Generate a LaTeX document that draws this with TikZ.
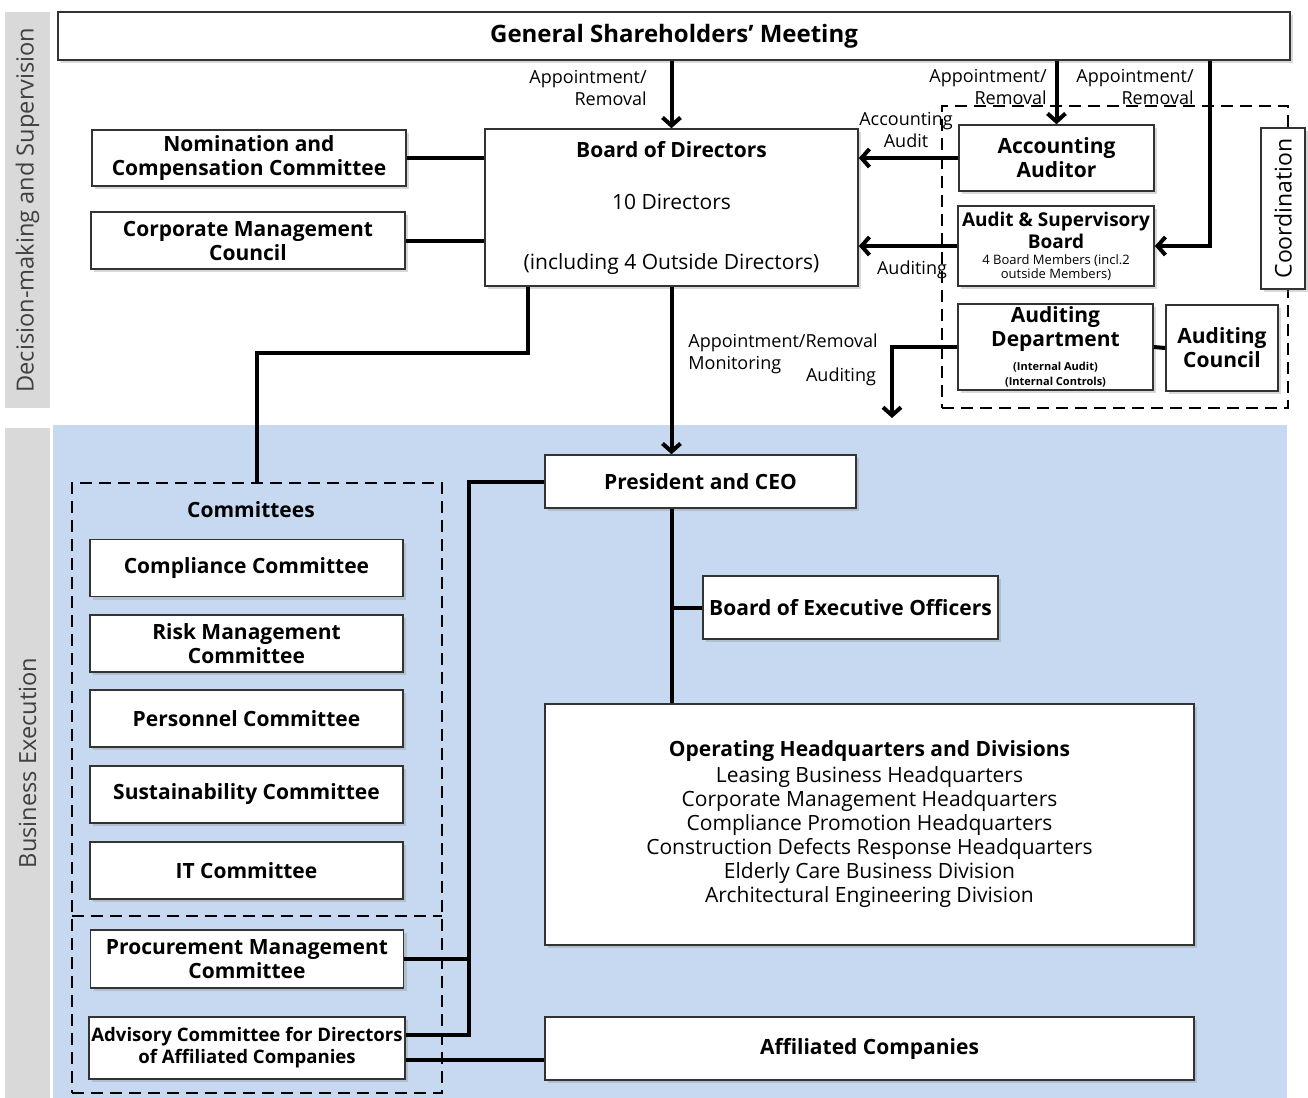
\documentclass[tikz,border=0pt]{standalone}
\usepackage{fontspec}
\setmainfont{Open Sans}
\usetikzlibrary{arrows.meta,calc,positioning,shadows}
\definecolor{bandgray}{HTML}{D9D9D9}
\definecolor{execblue}{HTML}{C6D9F0}
\definecolor{bandtext}{HTML}{404040}
\newcommand{\smallfnt}{\fontsize{6.5}{7.5}\selectfont\mdseries}
\newcommand{\tinybold}{\fontsize{5.5}{6.5}\selectfont\bfseries}
\tikzset{
    x=0.5pt, y=-0.5pt,
    box/.style = {rectangle, draw=black!80, line width=0.8pt, fill=white, align=center, inner sep=1pt,
        font=\fontsize{10.5}{12}\selectfont\bfseries,
        drop shadow={opacity=0.3, shadow xshift=1.5pt, shadow yshift=-1.5pt}},
    link/.style = {line width=2pt},
    arr/.style = {link, -{Straight Barb[length=4pt,width=9pt]}},
    lbl/.style = {font=\fontsize{9}{11}\selectfont, inner sep=0pt},
    grp/.style = {draw, line width=1pt, dash pattern=on 6pt off 3.5pt, inner sep=0pt},
    band/.style = {fill=bandgray, rotate=90, text=bandtext, font=\fontsize{11.8}{13}\selectfont, inner sep=0pt}
}

\begin{document}
\begin{tikzpicture}
	\tikzstyle{cbox}=[box, minimum width=156.5pt, minimum height=28.5pt]
	\tikzstyle{plain}=[font=\fontsize{10.5}{12}\selectfont]

	\useasboundingbox (0,0) rectangle (1308,1098);
	\fill[white] (0,0) rectangle (1308,1098);
	\fill[execblue] (53,425) rectangle (1287,1098);

	% side bands
	\node (dmband) [band, minimum width=198pt, minimum height=22.5pt] at (27.5,210) {Decision-making and Supervision};
	\node (exband) [band, minimum width=335pt, minimum height=22.5pt] at (27.5,763) {Business Execution};

	% dashed groups
	\node (audgrp) [grp, minimum width=173pt, minimum height=151pt] at (1115,257) {};
	\node (cmtgrp) [grp, minimum width=185pt, minimum height=305pt] at (257,788) {};
	\node (procgrp) [inner sep=0pt, minimum width=185pt, minimum height=88.5pt] at (257,1004.5) {};
	\draw[grp] (procgrp.north west) -- (procgrp.north east);

	% decision-making and supervision
	\node (gsm) [box, font=\fontsize{12}{14}\selectfont\bfseries, minimum width=616pt, minimum height=24pt] at (674,36) {General Shareholders’ Meeting};
	\node (bod) [box, plain, minimum width=186.5pt, minimum height=78.5pt] at (671.5,207.5)
		{\textbf{Board of Directors}\\[14pt]10 Directors\\[18pt](including 4 Outside Directors)};
	\node (ncc) [box, minimum width=157pt, minimum height=28pt] at (249,158) {Nomination and\\Compensation Committee};
	\node (cmc) [box, minimum width=157pt, minimum height=28.5pt] at (248,240.5) {Corporate Management\\Council};
	\node (aa) [box, minimum width=97.5pt, minimum height=33pt] at (1056.5,158) {Accounting\\Auditor};
	\node (asb) [box, font=\fontsize{9.5}{11}\selectfont\bfseries, minimum width=98pt, minimum height=40pt] at (1056,246)
		{Audit \& Supervisory\\[0pt]Board\\[-3pt]{\smallfnt 4 Board Members (incl.2}\\[-4pt]{\smallfnt outside Members)}};
	\node (ad) [box, minimum width=97.5pt, minimum height=43pt] at (1055.5,347)
		{Auditing\\Department\\{\tinybold (Internal Audit)}\\[-4.5pt]{\tinybold (Internal Controls)}};
	\node (ac) [box, minimum width=56pt, minimum height=43pt] at (1222,348) {Auditing\\Council};
	\node (coord) [box, font=\fontsize{11.5}{13}\selectfont, rotate=90, minimum width=80.5pt, minimum height=22pt] at (1283,208.5) {Coordination};

	% business execution
	\node (pres) [box, minimum width=155.5pt, minimum height=26.5pt] at (700.5,481.5) {President and CEO};
	\node (beo) [box, inner xsep=0.5pt, minimum width=147.5pt, minimum height=31.5pt] at (850.5,607.5) {Board of Executive Officers};
	\node (ohd) [box, plain, minimum width=324.5pt, minimum height=120.5pt] at (869.5,824.5)
		{\textbf{Operating Headquarters and Divisions}\\[1pt]Leasing Business Headquarters\\Corporate Management Headquarters\\
		 Compliance Promotion Headquarters\\Construction Defects Response Headquarters\\Elderly Care Business Division\\
		 Architectural Engineering Division};
	\node (aff) [box, minimum width=324.5pt, minimum height=31.5pt] at (869.5,1048.5) {Affiliated Companies};

	% committees
	\node (cmthead) [font=\fontsize{10.5}{12}\selectfont\bfseries] at (251,510) {Committees};
	\node (comp) [cbox] at (246.5,568) {Compliance Committee};
	\node (risk) [cbox] at (246.5,643.5) {Risk Management\\Committee};
	\node (pers) [cbox] at (246.5,718.5) {Personnel Committee};
	\node (sust) [cbox] at (246.5,794.5) {Sustainability Committee};
	\node (itc) [cbox] at (246.5,870.5) {IT Committee};
	\node (proc) [cbox, minimum height=29pt] at (247,959) {Procurement Management\\Committee};
	\node (adv) [box, font=\fontsize{9.3}{11}\selectfont\bfseries, inner xsep=0pt, minimum width=158pt, minimum height=31pt] at (247,1048)
		{Advisory Committee for Directors\\of Affiliated Companies};

	% connector labels
	\node (lblbod) [lbl, anchor=east, align=right] at (647,88) {Appointment/\\Removal};
	\node (lblaa) [lbl, anchor=east, align=right] at (1047,87) {Appointment/\\Removal};
	\node (lblasb) [lbl, anchor=east, align=right] at (1194,87) {Appointment/\\Removal};
	\node (lblacc) [lbl, align=center] at (906,130) {Accounting\\Audit};
	\node (lblaud) [lbl] at (912,270) {Auditing};
	\node (lblpres) [lbl, anchor=west, align=left] at (688,354) {Appointment/Removal\\Monitoring};
	\node (lblad) [lbl] at (841,377) {Auditing};

	% connectors
	\coordinate (asbtap) at (1210,245);
	\coordinate (bodtap) at (528,353);
	\coordinate (adtip) at (892,418);
	\coordinate (spine) at (469,1035);

	\path[arr] (gsm.south -| bod.north) edge (bod.north);
	\path[arr] (gsm.south -| aa.north) edge (aa.north);
	\draw[arr] (gsm.south -| asbtap) |- (asb.east);
	\path[arr] (aa.west) edge (aa.west -| bod.east);
	\path[arr] (asb.west) edge (asb.west -| bod.east);
	\draw[link] (ad.east) -- (ac.west);
	\draw[arr] (ad.west) -| (adtip);
	\draw[link] (ncc.east) -- (ncc.east -| bod.west);
	\draw[link] (cmc.east) -- (cmc.east -| bod.west);
	\draw[link] (bod.south -| bodtap) -- (bodtap) -| (cmtgrp.north);
	\draw[arr] (bod.south) -- (bod.south |- pres.north);
	\draw[link] (bod.south |- pres.south) -- (bod.south |- ohd.north);
	\draw[link] (bod.south |- beo.west) -- (beo.west);
	\draw[link] (pres.west) -| (spine) -- ([yshift=6.5pt]adv.east);
	\draw[link] (proc.east) -- (proc.east -| spine);
	\draw[link] ([yshift=-6pt]adv.east) -- ([yshift=-6pt]adv.east -| aff.west);
\end{tikzpicture}
\end{document}
